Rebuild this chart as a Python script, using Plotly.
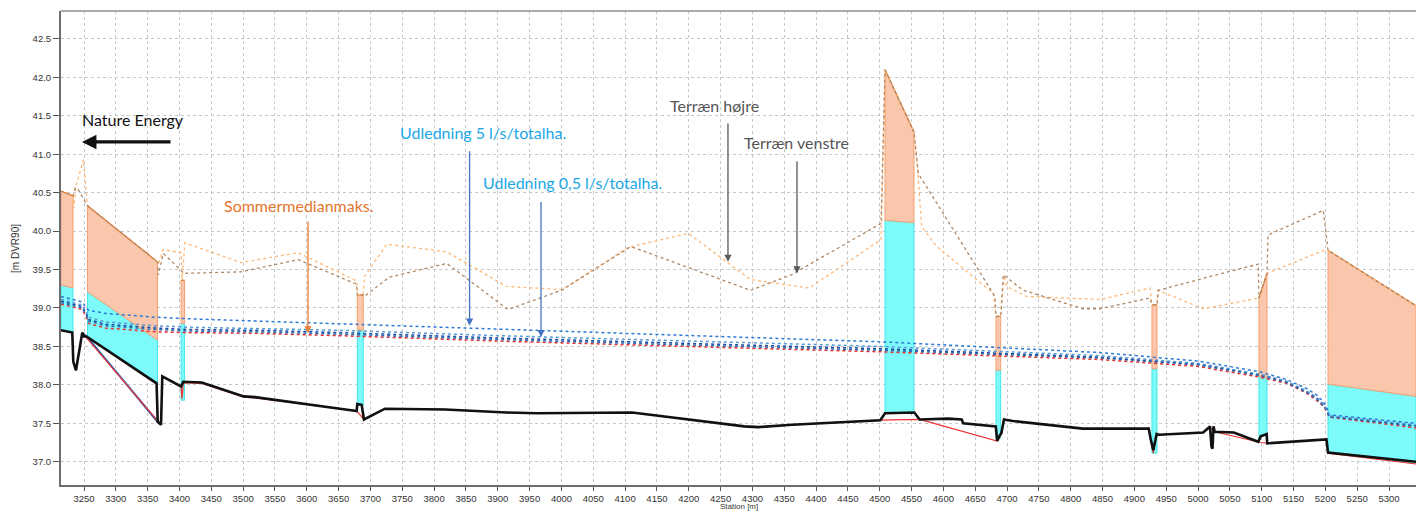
import plotly.graph_objects as go

# ---- Længdeprofil: stationering [m] og koter [m DVR90] ----

# Bundkote (optegnet bund)
bund_st = [3213.9, 3231.6, 3233.2, 3237.4, 3247.3, 3250.0, 3254.0, 3364.0, 3365.8, 3371.0, 3373.0,
           3402.4, 3406.0, 3435.0, 3501.0, 3518.6, 3652.0, 3678.4, 3679.3, 3686.2, 3689.8, 3722.8,
           3817.4, 3913.5, 3961.6, 4057.6, 4111.0, 4287.2, 4308.6, 4362.0, 4500.9, 4508.3, 4554.3,
           4562.7, 4607.5, 4628.7, 4631.2, 4682.3, 4684.5, 4687.8, 4691.0, 4695.2, 4709.0, 4819.0,
           4922.6, 4925.7, 4929.7, 4935.0, 4938.7, 5008.1, 5018.8, 5021.1, 5022.7, 5024.3, 5026.2,
           5056.2, 5094.6, 5098.4, 5107.8, 5108.7, 5201.7, 5204.2, 5342.4]
bund_z = [38.71, 38.68, 38.30, 38.19, 38.68, 38.63, 38.63, 38.02, 37.52, 37.48, 38.11,
          37.98, 38.04, 38.03, 37.85, 37.84, 37.69, 37.66, 37.75, 37.74, 37.55, 37.69,
          37.68, 37.64, 37.63, 37.64, 37.64, 37.46, 37.45, 37.48, 37.54, 37.63, 37.64,
          37.55, 37.56, 37.55, 37.50, 37.46, 37.27, 37.33, 37.37, 37.55, 37.53, 37.43,
          37.43, 37.29, 37.15, 37.36, 37.35, 37.38, 37.46, 37.20, 37.17, 37.46, 37.39,
          37.38, 37.26, 37.33, 37.36, 37.24, 37.29, 37.12, 37.00]

# Beregnet bund (modelbund)
mbund_st = [3213.9, 3231.6, 3233.2, 3237.4, 3247.3, 3254.0, 3371.0, 3373.0, 3402.4, 3404.0, 3406.0,
            3435.0, 3501.0, 3518.6, 3652.0, 3678.4, 3689.8, 3722.8, 3817.4, 3913.5, 3961.6, 4057.6,
            4111.0, 4287.2, 4308.6, 4362.0, 4500.9, 4562.7, 4684.5, 4691.0, 4695.2, 4709.0, 4819.0,
            4922.6, 4929.7, 4935.0, 4938.7, 5008.1, 5018.8, 5026.2, 5098.4, 5108.7, 5201.7, 5204.2,
            5342.4]
mbund_z = [38.71, 38.68, 38.30, 38.19, 38.68, 38.61, 37.48, 38.11, 37.98, 37.82, 38.03,
           38.02, 37.84, 37.83, 37.69, 37.66, 37.55, 37.69, 37.68, 37.64, 37.63, 37.64,
           37.64, 37.46, 37.45, 37.48, 37.54, 37.55, 37.27, 37.37, 37.55, 37.53, 37.43,
           37.43, 37.11, 37.36, 37.35, 37.38, 37.44, 37.39, 37.25, 37.24, 37.29, 37.11,
           36.97]

# Modelbund for udledningsscenarierne gennem rørbro ved st. 3255-3365
mbund_b_st = [3247.3, 3254.0, 3365.8]
mbund_b1_z = [38.68, 38.64, 37.53]
mbund_b2_z = [38.68, 38.63, 37.51]

# Terræn højre
terr_h_st = [3213.9, 3232.7, 3234.0, 3237.0, 3249.0, 3255.5, 3365.5, 3367.0, 3374.0, 3402.5,
             3404.0, 3408.5, 3496.5, 3586.6, 3678.5, 3680.0, 3688.5, 3690.5, 3725.7, 3819.8,
             3913.7, 4001.5, 4105.3, 4199.3, 4297.0, 4389.3, 4502.1, 4508.3, 4553.8, 4558.0,
             4565.9, 4589.5, 4678.4, 4682.6, 4690.0, 4695.2, 4699.4, 4730.8, 4846.0, 4924.5,
             4927.6, 4935.5, 4937.0, 5008.3, 5095.7, 5108.3, 5197.8, 5204.2, 5342.4]
terr_h_z = [40.52, 40.46, 40.30, 40.57, 40.93, 40.33, 39.60, 39.56, 39.76, 39.72,
            39.36, 39.85, 39.59, 39.72, 39.35, 39.17, 39.17, 39.41, 39.83, 39.73,
            39.28, 39.24, 39.79, 39.97, 39.37, 39.26, 39.89, 42.10, 41.29, 40.97,
            40.06, 39.80, 39.19, 38.89, 38.89, 39.43, 39.28, 39.15, 39.11, 39.26,
            39.04, 39.04, 39.23, 38.99, 39.13, 39.45, 39.75, 39.75, 39.03]

# Terræn venstre
terr_v_st = [3213.9, 3232.7, 3236.0, 3241.0, 3255.5, 3365.5, 3366.7, 3374.6, 3402.5, 3406.0,
             3496.5, 3586.6, 3678.0, 3679.3, 3688.7, 3690.5, 3729.4, 3819.8, 3915.9, 4000.1,
             4109.1, 4201.5, 4297.0, 4360.7, 4502.1, 4508.3, 4553.8, 4560.5, 4681.0, 4682.6,
             4690.0, 4694.1, 4725.5, 4819.7, 4846.0, 4924.5, 4927.6, 4935.5, 4937.6, 5023.9,
             5094.6, 5095.7, 5108.3, 5110.0, 5196.7, 5204.2, 5342.4]
terr_v_z = [40.52, 40.46, 40.56, 40.54, 40.33, 39.60, 39.43, 39.71, 39.49, 39.45,
            39.47, 39.63, 39.31, 39.17, 39.17, 39.15, 39.40, 39.58, 38.98, 39.23,
            39.80, 39.52, 39.23, 39.43, 40.10, 42.10, 41.29, 40.75, 39.15, 38.89,
            38.89, 39.43, 39.23, 38.99, 38.99, 39.13, 39.04, 39.04, 39.23, 39.42,
            39.57, 39.13, 39.45, 39.95, 40.27, 39.75, 39.03]

# Bygværker (rørbroer/broer): start- og slutstation, bund, overkant rør, vejkote
byg_st_start = [3213.9, 3255.5, 3402.5, 3679.3, 4508.3, 4682.6, 4927.6, 5095.7, 5204.2]
byg_st_slut = [3232.7, 3365.5, 3408.0, 3688.7, 4553.8, 4690.0, 4935.5, 5108.3, 5342.4]
byg_bund_start = [38.71, 38.63, 37.80, 37.73, 37.63, 37.31, 37.11, 37.30, 37.11]
byg_bund_slut = [38.68, 38.02, 37.80, 37.73, 37.64, 37.31, 37.11, 37.36, 36.98]
byg_top_start = [39.30, 39.21, 38.80, 38.71, 40.14, 38.19, 38.21, 38.11, 38.01]
byg_top_slut = [39.26, 38.58, 38.80, 38.71, 40.11, 38.19, 38.21, 38.09, 37.85]
byg_vej_start = [40.52, 40.33, 39.36, 39.17, 42.10, 38.89, 39.04, 39.13, 39.75]
byg_vej_slut = [40.46, 39.60, 39.36, 39.17, 41.29, 38.89, 39.04, 39.45, 39.03]

# Vandspejl
wl_st = [3213.9, 3247.0, 3254.0, 3257.0, 3283.0, 3362.0, 3414.0, 3519.0, 3652.0, 3900.0, 4280.0,
         4502.0, 4846.0, 5000.0, 5097.0, 5139.0, 5171.0, 5186.0, 5197.0, 5204.0, 5205.5, 5342.4]
wl_sommermedian = [39.05, 38.98, 38.87, 38.80, 38.74, 38.69, 38.68, 38.67, 38.64, 38.57, 38.48,
                   38.43, 38.33, 38.24, 38.10, 38.02, 37.89, 37.80, 37.72, 37.63, 37.58, 37.44]
wl_05 = [39.07, 39.00, 38.90, 38.83, 38.77, 38.72, 38.70, 38.69, 38.66, 38.59, 38.50,
         38.45, 38.35, 38.26, 38.12, 38.03, 37.90, 37.82, 37.73, 37.64, 37.59, 37.46]
wl_1 = [39.09, 39.02, 38.92, 38.85, 38.79, 38.74, 38.72, 38.71, 38.68, 38.61, 38.52,
        38.47, 38.36, 38.27, 38.13, 38.04, 37.91, 37.83, 37.74, 37.64, 37.59, 37.47]
wl_2 = [39.11, 39.04, 38.94, 38.88, 38.82, 38.77, 38.75, 38.73, 38.71, 38.64, 38.55,
        38.50, 38.38, 38.28, 38.14, 38.05, 37.92, 37.84, 37.75, 37.65, 37.60, 37.48]
wl_5 = [39.15, 39.08, 39.00, 38.97, 38.93, 38.88, 38.86, 38.83, 38.80, 38.72, 38.62,
        38.56, 38.42, 38.31, 38.17, 38.07, 37.95, 37.87, 37.78, 37.67, 37.61, 37.50]

x_range = [3213.87, 5342.4]
y_range = [36.697, 42.864]

fig = go.Figure()

# Bygværker: rør (cyan) og vejdæmning (laks)
for i in range(len(byg_st_start)):
    s0, s1 = byg_st_start[i], byg_st_slut[i]
    fig.add_trace(go.Scatter(
        x=[s0, s1, s1, s0, s0],
        y=[byg_bund_start[i], byg_bund_slut[i], byg_top_slut[i], byg_top_start[i], byg_bund_start[i]],
        mode="lines", fill="toself", fillcolor="rgb(125,251,251)",
        line=dict(color="#45E6E8", width=1), hoverinfo="skip", showlegend=False))
    fig.add_trace(go.Scatter(
        x=[s0, s1, s1, s0, s0],
        y=[byg_top_start[i], byg_top_slut[i], byg_vej_slut[i], byg_vej_start[i], byg_top_start[i]],
        mode="lines", fill="toself", fillcolor="rgb(250,198,172)",
        line=dict(color="#F4A070", width=1), hoverinfo="skip", showlegend=False))
    fig.add_trace(go.Scatter(
        x=[s0, s1], y=[byg_vej_start[i], byg_vej_slut[i]],
        mode="lines", line=dict(color="#E07A35", width=1.2), hoverinfo="skip", showlegend=False))

# Terræn
fig.add_trace(go.Scatter(x=terr_h_st, y=terr_h_z, mode="lines", name="Terræn højre",
                         line=dict(color="#FFB878", width=1.3, dash="dot")))
fig.add_trace(go.Scatter(x=terr_v_st, y=terr_v_z, mode="lines", name="Terræn venstre",
                         line=dict(color="#AE8866", width=1.3, dash="dot")))

# Modelbund
fig.add_trace(go.Scatter(x=mbund_b_st, y=mbund_b1_z, mode="lines",
                         line=dict(color="#3A7FD5", width=1.2), showlegend=False))
fig.add_trace(go.Scatter(x=mbund_b_st, y=mbund_b2_z, mode="lines",
                         line=dict(color="#1F4E9A", width=1.2), showlegend=False))
fig.add_trace(go.Scatter(x=mbund_st, y=mbund_z, mode="lines",
                         line=dict(color="#F03030", width=1.2), showlegend=False))

# Bund
fig.add_trace(go.Scatter(x=bund_st, y=bund_z, mode="lines", name="Bund",
                         line=dict(color="#111111", width=2.6)))

# Vandspejl
for z, col in [(wl_sommermedian, "#E8302A"), (wl_05, "#2F6DB8"), (wl_1, "#1F4E9A"),
               (wl_2, "#5B9BD5"), (wl_5, "#2E7BD6")]:
    fig.add_trace(go.Scatter(x=wl_st, y=z, mode="lines", showlegend=False,
                             line=dict(color=col, width=1.5, dash="dot")))

# Tekster
txt_font = "Lato, Open Sans, sans-serif"
labels = [
    ("Nature Energy", 3243.7, 41.45, "#111111"),
    ("Sommermedianmaks.", 3466.8, 40.33, "#E4762E"),
    ("Udledning 5 l/s/totalha.", 3743.2, 41.28, "#1AA7E6"),
    ("Udledning 0,5 l/s/totalha.", 3873.6, 40.63, "#1AA7E6"),
    ("Terræn højre", 4167.4, 41.64, "#555555"),
    ("Terræn venstre", 4283.6, 41.15, "#555555"),
]
for t, sx, sy, c in labels:
    fig.add_annotation(x=sx, y=sy, text=t, showarrow=False, xanchor="left", yanchor="middle",
                       font=dict(family=txt_font, size=16, color=c))

# Pile
arrows = [
    (3246.9, 41.16, 3388.2, 41.16, "#111111", 3.2),
    (3601.9, 38.67, 3601.9, 40.14, "#ED7D31", 1.3),
    (3855.7, 38.77, 3855.7, 41.06, "#4472C4", 1.3),
    (3967.9, 38.62, 3967.9, 40.40, "#4472C4", 1.3),
    (4261.6, 39.60, 4261.6, 41.42, "#595959", 1.3),
    (4370.0, 39.45, 4370.0, 40.93, "#595959", 1.3),
]
for x1, y1, x0, y0, c, w in arrows:
    fig.add_annotation(x=x1, y=y1, ax=x0, ay=y0, axref="x", ayref="y", text="",
                       showarrow=True, arrowhead=2, arrowsize=1.1 if w < 2 else 0.9,
                       arrowwidth=w, arrowcolor=c)

tick_font = dict(family="Liberation Sans, Arial, sans-serif", size=9.5, color="#333333")

# Aksetitler
fig.add_annotation(xref="paper", yref="paper", x=0.5, y=-0.057, xanchor="center", yanchor="bottom",
                   text="Station [m]", showarrow=False, borderpad=0,
                   font=dict(family="Liberation Sans, Arial, sans-serif", size=8, color="#333333"))
fig.add_annotation(xref="paper", yref="paper", x=-0.034, y=0.5, xanchor="center", yanchor="middle",
                   text="[m DVR90]", textangle=-90, showarrow=False,
                   font=dict(family="Liberation Sans, Arial, sans-serif", size=10, color="#333333"))

# Ramme foroven
fig.add_shape(type="line", xref="paper", yref="paper", x0=0, x1=1, y0=1, y1=1,
              line=dict(color="#8C8C8C", width=1.5))

fig.update_layout(
    width=1416, height=512,
    margin=dict(l=61, r=0, t=11, b=27),
    paper_bgcolor="white", plot_bgcolor="white",
    showlegend=False,
    xaxis=dict(range=x_range, tick0=3250, dtick=50, ticks="outside", ticklen=4,
               tickcolor="#555555", tickwidth=1.2, automargin=False,
               showline=True, linecolor="#6E6E6E", linewidth=2,
               showgrid=True, gridcolor="#C8C8C8", griddash="dot", gridwidth=1,
               zeroline=False, tickfont=tick_font),
    yaxis=dict(range=y_range, tick0=37.0, dtick=0.5, tickformat=".1f", ticks="outside",
               ticklen=6, tickcolor="#555555", tickwidth=1.2, automargin=False,
               showline=True, linecolor="#6E6E6E", linewidth=2,
               showgrid=True, gridcolor="#C8C8C8", griddash="dot", gridwidth=1,
               zeroline=False, tickfont=tick_font),
)

fig.write_html("out.html", config={"displayModeBar": False})
